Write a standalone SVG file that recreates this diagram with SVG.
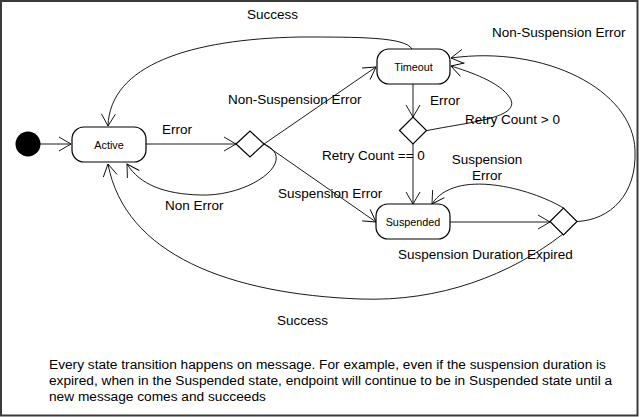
<svg xmlns="http://www.w3.org/2000/svg" width="640" height="417" viewBox="0 0 640 417">
<style>
.st{fill:#fff;stroke:#000;stroke-width:1.2}
.sl{font-family:"Liberation Sans",Arial,sans-serif;font-size:10.8px;text-anchor:middle;dominant-baseline:central}
.lb{font-family:"Liberation Sans",Arial,sans-serif;font-size:13.5px;fill:#000}
.nt{font-size:13.7px}
.c{fill:none;stroke:#000;stroke-width:0.9}
</style>
<defs>
<marker id="a" markerWidth="14" markerHeight="16" refX="13" refY="8" orient="auto" markerUnits="userSpaceOnUse">
<path d="M1,1 L13,8 L1,15" fill="none" stroke="#000" stroke-width="0.9"/>
</marker>
</defs>
<rect x="0" y="0" width="640" height="417" fill="#fff"/>
<rect x="1" y="1" width="636.5" height="414.5" fill="none" stroke="#3a3a3a" stroke-width="2"/>

<g id="connectors">
<path class="c" d="M40,144 L71,144" marker-end="url(#a)"/>
<path class="c" d="M146,144 L236,144" marker-end="url(#a)"/>
<path class="c" d="M412,49 C405,37 360,37 300,37 C190,39 110,65 108,126" marker-end="url(#a)"/>
<path class="c" d="M264,144 C300,160 250,197 200,195 C165,194 140,185 127,164" marker-end="url(#a)"/>
<path class="c" d="M264,144 L376,67" marker-end="url(#a)"/>
<path class="c" d="M264,144 L376,222" marker-end="url(#a)"/>
<path class="c" d="M413,84 L413,117" marker-end="url(#a)"/>
<path class="c" d="M427,130.5 C470,122 522,118 510,98 C500,82 470,72 451,66" marker-end="url(#a)"/>
<path class="c" d="M413,144 L413,204" marker-end="url(#a)"/>
<path class="c" d="M450,222 L550,222" marker-end="url(#a)"/>
<path class="c" d="M563.5,208 C530,188 455,168 432,204" marker-end="url(#a)"/>
<path class="c" d="M577,221.5 C610,220 637,195 635,150 C633,90 545,45 451,58" marker-end="url(#a)"/>
<path class="c" d="M563,234 C510,275 440,302 360,299 C230,294 125,255 108,164" marker-end="url(#a)"/>
</g>

<g id="initial"><circle cx="28" cy="144" r="12.5" fill="#000"/></g>
<g id="active"><rect class="st" x="72" y="127" width="74" height="35" rx="12"/><text class="sl" x="109" y="145">Active</text></g>
<g id="timeout"><rect class="st" x="377" y="49" width="73" height="35" rx="12"/><text class="sl" x="413.5" y="67">Timeout</text></g>
<g id="suspended"><rect class="st" x="376" y="204" width="74" height="35" rx="12"/><text class="sl" x="413" y="222">Suspended</text></g>
<g id="decision1"><path class="st" d="M236,144 L250,131 L264,144 L250,157 Z"/></g>
<g id="decision2"><path class="st" d="M399.5,130.5 L413,117 L426.5,130.5 L413,144 Z"/></g>
<g id="decision3"><path class="st" d="M550,221.5 L563.5,208 L577,221.5 L563.5,235 Z"/></g>

<g id="labels">
<text class="lb" x="247" y="19">Success</text>
<text class="lb" x="492" y="37">Non-Suspension Error</text>
<text class="lb" x="162" y="134">Error</text>
<text class="lb" x="228" y="104">Non-Suspension Error</text>
<text class="lb" x="430" y="105">Error</text>
<text class="lb" x="465" y="124">Retry Count &gt; 0</text>
<text class="lb" x="322" y="160">Retry Count == 0</text>
<text class="lb" x="487" y="164" text-anchor="middle">Suspension</text>
<text class="lb" x="487" y="180" text-anchor="middle">Error</text>
<text class="lb" x="165" y="210">Non Error</text>
<text class="lb" x="278" y="198">Suspension Error</text>
<text class="lb" x="398" y="259">Suspension Duration Expired</text>
<text class="lb" x="277" y="325">Success</text>
<text class="lb nt" x="49" y="369">Every state transition happens on message. For example, even if the suspension duration is</text>
<text class="lb nt" x="49" y="385">expired, when in the Suspended state, endpoint will continue to be in Suspended state until a</text>
<text class="lb nt" x="49" y="401">new message comes and succeeds</text>
</g>
</svg>
